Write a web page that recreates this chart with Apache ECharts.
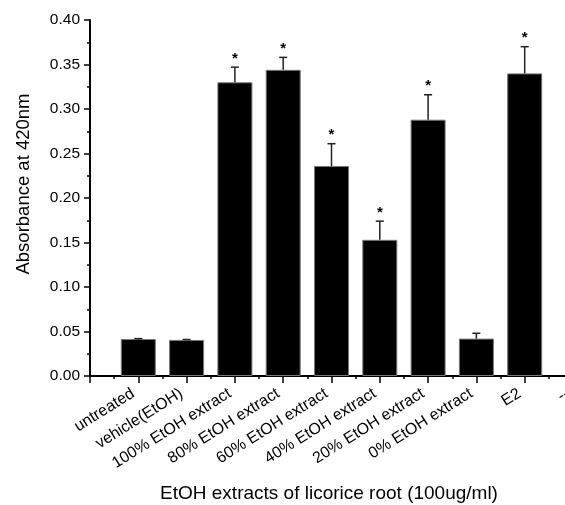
<!DOCTYPE html>
<html>
<head>
<meta charset="utf-8">
<script src="https://cdn.jsdelivr.net/npm/echarts@6/dist/echarts.min.js"></script>
<style>
  html, body { margin: 0; padding: 0; background: #fff; overflow: hidden; }
  /* the original figure is cropped on the right, so the chart is wider than the window */
  #chart { width: 620px; height: 505px; }
</style>
</head>
<body>
<div id="chart"></div>
<script>
// category names by x position (0 is the empty slot left of the first bar)
var categories = ['', 'untreated', 'vehicle(EtOH)', '100% EtOH extract', '80% EtOH extract',
  '60% EtOH extract', '40% EtOH extract', '20% EtOH extract', '0% EtOH extract', 'E2', '--'];
var positions = [1, 2, 3, 4, 5, 6, 7, 8, 9];
var absorbance = [0.0415, 0.0405, 0.330, 0.344, 0.236, 0.153, 0.288, 0.042, 0.340];
var errors = [0.0005, 0.0005, 0.017, 0.014, 0.025, 0.021, 0.028, 0.006, 0.030];
var significant = [false, false, true, true, true, true, true, false, true];
var yTicks = [0, 0.4, 0.05];

var font = 'Liberation Sans, Arial, Helvetica, sans-serif';

var barData = positions.map(function (p, i) { return [p, absorbance[i]]; });
var errData = positions.map(function (p, i) { return [p, absorbance[i], errors[i], significant[i] ? 1 : 0]; });

var myChart = echarts.init(document.getElementById('chart'));
var option = {
  animation: false,
  textStyle: { fontFamily: font },
  grid: { left: 90, right: 47, top: 20, bottom: 129 },
  xAxis: {
    type: 'value',
    min: 0,
    max: categories.length - 1,
    interval: 1,
    axisLine: { show: true, onZero: false, lineStyle: { color: '#000', width: 2 } },
    axisTick: { show: true, length: 7, lineStyle: { color: '#000', width: 1.5 } },
    minorTick: { show: true, splitNumber: 2, length: 3, lineStyle: { color: '#000', width: 1.5 } },
    splitLine: { show: false },
    minorSplitLine: { show: false },
    axisLabel: {
      rotate: 32,
      margin: 13,
      padding: [0, 6, 0, 0],
      fontSize: 16,
      color: '#000',
      fontFamily: font,
      showMinLabel: true,
      showMaxLabel: true,
      hideOverlap: false,
      formatter: function (v) {
        var i = Math.round(v);
        return Math.abs(v - i) < 1e-6 ? (categories[i] || '') : '';
      }
    }
  },
  yAxis: {
    type: 'value',
    min: yTicks[0],
    max: yTicks[1],
    interval: yTicks[2],
    axisLine: { show: true, lineStyle: { color: '#000', width: 2 } },
    axisTick: { show: true, length: 6, lineStyle: { color: '#000', width: 1.5 } },
    minorTick: { show: true, splitNumber: 2, length: 3, lineStyle: { color: '#000', width: 1.5 } },
    splitLine: { show: false },
    minorSplitLine: { show: false },
    axisLabel: {
      margin: 10,
      fontSize: 15.5,
      color: '#000',
      fontFamily: font,
      formatter: function (v) { return v.toFixed(2); }
    }
  },
  graphic: [
    {
      type: 'text',
      x: 24, y: 184,
      rotation: Math.PI / 2,
      style: {
        text: 'Absorbance at 420nm',
        font: '18.5px ' + font,
        fill: '#000',
        textAlign: 'center',
        textVerticalAlign: 'middle'
      }
    },
    {
      type: 'text',
      x: 329, y: 494,
      style: {
        text: 'EtOH extracts of licorice root (100ug/ml)',
        font: '19px ' + font,
        fill: '#000',
        textAlign: 'center',
        textVerticalAlign: 'middle'
      }
    }
  ],
  series: [
    {
      type: 'bar',
      data: barData,
      barWidth: 35,
      itemStyle: { color: '#000', borderColor: '#777', borderWidth: 1 },
      z: 2
    },
    {
      type: 'custom',
      data: errData,
      z: 3,
      renderItem: function (params, api) {
        var x = api.value(0), y = api.value(1), e = api.value(2), sig = api.value(3);
        var base = api.coord([x, y]);
        var top = api.coord([x, y + e]);
        var half = 4;
        var children = [
          { type: 'line', shape: { x1: base[0], y1: base[1], x2: top[0], y2: top[1] },
            style: { stroke: '#222', lineWidth: 1.5 } },
          { type: 'line', shape: { x1: top[0] - half, y1: top[1], x2: top[0] + half, y2: top[1] },
            style: { stroke: '#222', lineWidth: 1.5 } }
        ];
        if (sig) {
          children.push({
            type: 'text',
            x: top[0], y: top[1] - 1,
            style: { text: '*', font: 'bold 15px ' + font, fill: '#000',
              textAlign: 'center', textVerticalAlign: 'bottom' }
          });
        }
        return { type: 'group', children: children };
      }
    }
  ]
};
myChart.setOption(option);
</script>
</body>
</html>
